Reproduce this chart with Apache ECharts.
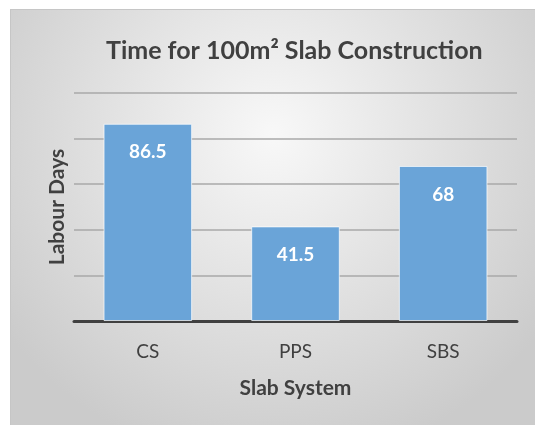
<!DOCTYPE html>
<html>
<head>
<meta charset="utf-8">
<script src="https://cdn.jsdelivr.net/npm/echarts@6/dist/echarts.min.js"></script>
<style>
  html, body { margin: 0; padding: 0; background: #fff; }
  #frame {
    position: absolute; left: 10px; top: 9px;
    width: 524px; height: 415px;
    border-left: 1px solid #c6c6c6; border-top: 1px solid #c6c6c6;
  }
  #main { width: 524px; height: 415px; }
</style>
</head>
<body>
<div id="frame"><div id="main"></div></div>
<script>
// 数据
var systems = ['CS', 'PPS', 'SBS'];
var labourDays = [86.5, 41.5, 68];

var FONT = 'Lato';
var textColor = '#404040';

var myChart = echarts.init(document.getElementById('main'));
var option = {
    backgroundColor: new echarts.graphic.RadialGradient(0.5, 0.3, 0.8, [
        { offset: 0, color: '#f8f8f8' },
        { offset: 1, color: '#cbcbcb' }
    ]),
    textStyle: { fontFamily: FONT },
    title: {
        text: 'Time for 100m² Slab Construction',
        left: 90,
        top: 23,
        textStyle: { fontFamily: FONT, fontSize: 25, fontWeight: 'bold', color: textColor }
    },
    grid: { left: 63, right: 18, top: 83, bottom: 104 },
    xAxis: {
        type: 'category',
        data: systems,
        name: 'Slab System',
        nameLocation: 'middle',
        nameGap: 57,
        nameTextStyle: { fontFamily: FONT, fontSize: 21, fontWeight: 'bold', color: textColor },
        axisLine: { lineStyle: { color: '#404040', width: 3 } },
        axisTick: { show: false },
        axisLabel: { margin: 21, fontSize: 19, color: textColor, fontFamily: FONT }
    },
    yAxis: {
        type: 'value',
        min: 0,
        max: 100,
        interval: 20,
        name: 'Labour Days',
        nameLocation: 'middle',
        nameGap: 6,
        nameTextStyle: { fontFamily: FONT, fontSize: 21, fontWeight: 'bold', color: textColor },
        axisLabel: { show: false },
        axisLine: { show: false },
        axisTick: { show: false },
        splitLine: { lineStyle: { color: '#a8a8a8', width: 1.5 } }
    },
    series: [{
        type: 'bar',
        data: labourDays,
        barWidth: '60%',
        itemStyle: {
            color: '#6aa4d8',
            borderColor: 'rgba(255,255,255,0.7)',
            borderWidth: 1
        },
        label: {
            show: true,
            position: 'insideTop',
            distance: 19,
            color: '#fff',
            fontSize: 19,
            fontWeight: 'bold',
            fontFamily: FONT
        }
    }]
};
myChart.setOption(option);
</script>
</body>
</html>
